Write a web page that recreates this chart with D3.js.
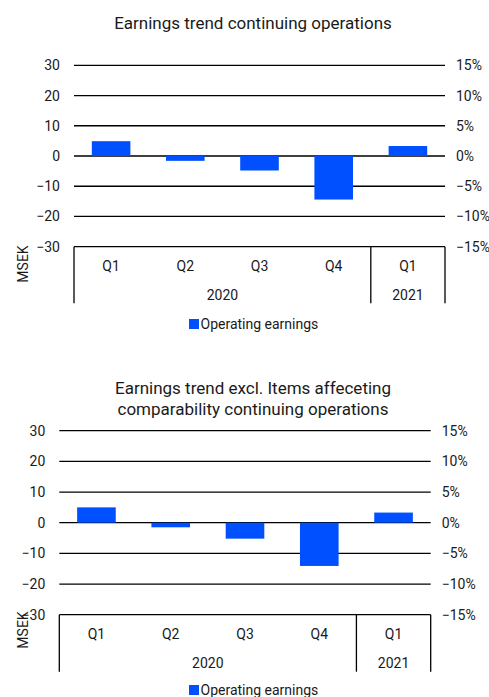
<!DOCTYPE html>
<html>
<head>
<meta charset="utf-8">
<script src="https://cdn.jsdelivr.net/npm/d3@7"></script>
<style>
  body { margin: 0; background: #fff; }
  svg text { font-family: Roboto, "Noto Sans", sans-serif; fill: #1a1a1a; }
</style>
</head>
<body>
<div id="chart"></div>
<script>
// data
const quarters = ['Q1', 'Q2', 'Q3', 'Q4', 'Q1'];
const quarterYears = ['2020', '2020', '2020', '2020', '2021'];
const earningsTrend = [4.9, -1.6, -4.8, -14.4, 3.3];
const earningsExclItems = [5.0, -1.5, -5.2, -14.1, 3.3];
const leftTicks = [-30, -20, -10, 0, 10, 20, 30];
const rightTicks = [-0.15, -0.10, -0.05, 0, 0.05, 0.10, 0.15];
const legendLabel = 'Operating earnings';

const width = 489;
const height = 697;
const barColor = '#0050ff';
const fontSize = '14px';

const svg = d3.select('#chart').append('svg')
  .attr('width', width)
  .attr('height', height);

function drawChart(cfg) {
  const g = svg.append('g');

  // title
  cfg.title.forEach((line, i) => {
    g.append('text')
      .attr('x', cfg.titleX)
      .attr('y', cfg.titleY + i * 21)
      .attr('dy', '0.35em')
      .attr('text-anchor', 'middle')
      .style('font-size', '17px')
      .text(line);
  });

  const x = d3.scaleBand()
    .domain(d3.range(quarters.length))
    .range([cfg.left, cfg.right])
    .paddingInner(0.48)
    .paddingOuter(0.24);

  const y = d3.scaleLinear().domain([-30, 30]).range([cfg.bottom, cfg.top]);
  const y2 = d3.scaleLinear().domain([-0.15, 0.15]).range([cfg.bottom, cfg.top]);

  // gridlines (not at -30, that is the category box top)
  g.append('g')
    .selectAll('line')
    .data(leftTicks.filter(d => d > -30))
    .enter().append('line')
    .attr('x1', cfg.left)
    .attr('x2', cfg.right)
    .attr('y1', d => y(d))
    .attr('y2', d => y(d))
    .attr('stroke', '#000')
    .attr('stroke-width', 1.3);

  // left axis labels
  const leftAxis = g.append('g')
    .attr('transform', `translate(${cfg.left},0)`)
    .call(d3.axisLeft(y).tickValues(leftTicks).tickSize(0).tickPadding(14));
  leftAxis.select('.domain').remove();
  leftAxis.selectAll('text').style('font-size', fontSize).attr('fill', '#1a1a1a');

  // right axis labels
  const rightAxis = g.append('g')
    .attr('transform', `translate(${cfg.right},0)`)
    .call(d3.axisRight(y2).tickValues(rightTicks).tickSize(0).tickPadding(11)
      .tickFormat(d3.format('.0%')));
  rightAxis.select('.domain').remove();
  rightAxis.selectAll('text').style('font-size', fontSize).attr('fill', '#1a1a1a');

  // bars
  g.append('g')
    .selectAll('rect')
    .data(cfg.values)
    .enter().append('rect')
    .attr('x', (d, i) => x(i))
    .attr('width', x.bandwidth())
    .attr('y', d => y(Math.max(0, d)))
    .attr('height', d => Math.abs(y(d) - y(0)))
    .attr('fill', barColor);

  // category box
  const step = x.step();
  const boxBottom = cfg.bottom + cfg.boxHeight;
  g.append('line')
    .attr('x1', cfg.left).attr('x2', cfg.right)
    .attr('y1', cfg.bottom).attr('y2', cfg.bottom)
    .attr('stroke', '#000').attr('stroke-width', 1.3);

  const yearGroups = d3.groups(quarters.map((q, i) => ({ i, year: quarterYears[i] })), d => d.year);
  const edges = [cfg.left];
  yearGroups.forEach(([year, items]) => {
    const last = d3.max(items, d => d.i);
    edges.push(cfg.left + (last + 1) * step);
  });
  g.append('g')
    .selectAll('line')
    .data(edges)
    .enter().append('line')
    .attr('x1', d => d).attr('x2', d => d)
    .attr('y1', cfg.bottom).attr('y2', boxBottom)
    .attr('stroke', '#000').attr('stroke-width', 1.3);

  g.append('g')
    .selectAll('text')
    .data(quarters)
    .enter().append('text')
    .attr('x', (d, i) => x(i) + x.bandwidth() / 2)
    .attr('y', cfg.bottom + 19.5)
    .attr('dy', '0.35em')
    .attr('text-anchor', 'middle')
    .style('font-size', fontSize)
    .text(d => d);

  g.append('g')
    .selectAll('text')
    .data(yearGroups)
    .enter().append('text')
    .attr('x', ([year, items]) => cfg.left + (d3.min(items, d => d.i) + d3.max(items, d => d.i) + 1) / 2 * step)
    .attr('y', cfg.bottom + 48)
    .attr('dy', '0.35em')
    .attr('text-anchor', 'middle')
    .style('font-size', fontSize)
    .text(([year]) => year);

  // y axis title
  g.append('text')
    .attr('transform', `translate(${cfg.msekX},${cfg.msekY}) rotate(-90)`)
    .attr('dy', '0.35em')
    .attr('text-anchor', 'middle')
    .style('font-size', fontSize)
    .text('MSEK');

  // legend
  g.append('rect')
    .attr('x', 189)
    .attr('y', cfg.legendY - 5)
    .attr('width', 10)
    .attr('height', 10)
    .attr('fill', barColor);
  g.append('text')
    .attr('x', 200.5)
    .attr('y', cfg.legendY)
    .attr('dy', '0.35em')
    .style('font-size', fontSize)
    .text(legendLabel);
}

drawChart({
  title: ['Earnings trend continuing operations'],
  titleX: 253, titleY: 23.5,
  values: earningsTrend,
  left: 74, right: 445, top: 65.3, bottom: 246.7,
  boxHeight: 56.6,
  msekX: 23.5, msekY: 264,
  legendY: 324
});

drawChart({
  title: ['Earnings trend excl. Items affeceting', 'comparability continuing operations'],
  titleX: 253, titleY: 388.5,
  values: earningsExclItems,
  left: 59.3, right: 430.7, top: 430.7, bottom: 614.7,
  boxHeight: 57,
  msekX: 23.5, msekY: 630,
  legendY: 690
});
</script>
</body>
</html>
